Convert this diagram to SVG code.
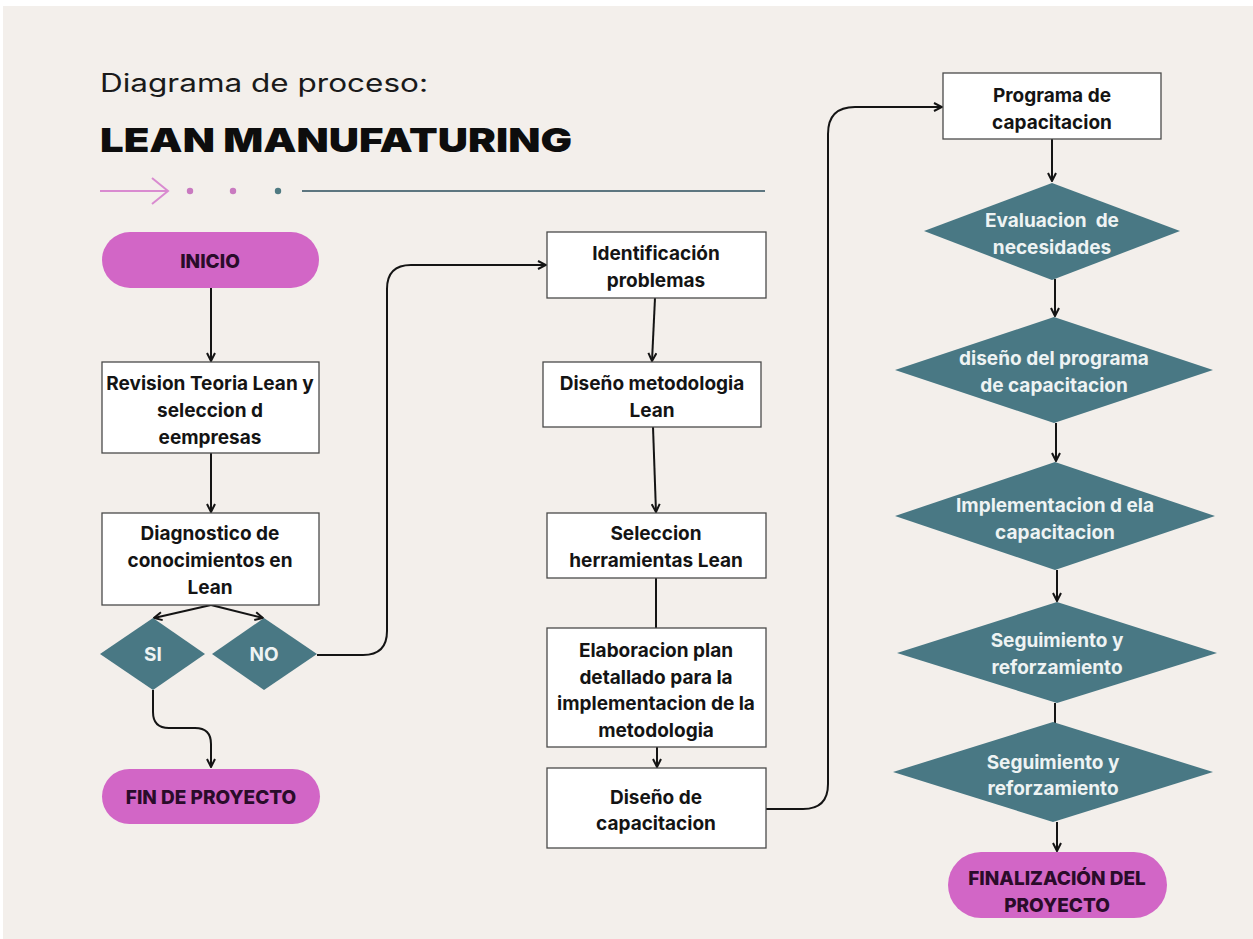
<svg xmlns="http://www.w3.org/2000/svg" width="1253" height="939" viewBox="0 0 1253 939">
  <style>
    .box { fill: #ffffff; stroke: #4a4a4a; stroke-width: 1.3; }
    .pill { fill: #d266c6; }
    .dia { fill: #497884; }
    .lbl { font-family: Inter, "Liberation Sans", sans-serif; font-weight: 700; font-size: 19px; fill: #141414; text-anchor: middle; }
    .lbl-pill { fill: #2a0c2a; font-weight: 800; }
    .lbl-dia { fill: #eef3f3; }
    .conn { fill: none; stroke: #141414; stroke-width: 2; }
  </style>
  <defs>
    <marker id="arrow" viewBox="0 0 10 10" refX="9" refY="5" markerWidth="10" markerHeight="10" markerUnits="userSpaceOnUse" orient="auto">
      <path d="M1,1 L9,5 L1,9" fill="none" stroke="#141414" stroke-width="2"/>
    </marker>
    <marker id="arrowPink" viewBox="0 0 20 30" refX="18" refY="15" markerWidth="20" markerHeight="30" markerUnits="userSpaceOnUse" orient="auto">
      <path d="M2,2 L18,15 L2,28" fill="none" stroke="#d98bd0" stroke-width="2"/>
    </marker>
  </defs>

  <!-- page background -->
  <rect x="0" y="0" width="1253" height="939" fill="#ffffff"/>
  <rect x="3" y="6" width="1250" height="933" fill="#f3efeb"/>

  <!-- heading -->
  <g id="heading">
    <text x="100" y="92" font-family="Inter, 'Liberation Sans', sans-serif" font-weight="400" font-size="25" fill="#1a1a1a" textLength="328" lengthAdjust="spacingAndGlyphs">Diagrama de proceso:</text>
    <text x="100" y="152" font-family="Inter, 'Liberation Sans', sans-serif" font-weight="900" font-size="33" fill="#0d0d0d" textLength="472" lengthAdjust="spacingAndGlyphs">LEAN MANUFATURING</text>
    <line x1="100" y1="191" x2="168" y2="191" stroke="#d98bd0" stroke-width="2" marker-end="url(#arrowPink)"/>
    <circle cx="190" cy="191" r="3.2" fill="#c97ac0"/>
    <circle cx="233" cy="191" r="3.2" fill="#c97ac0"/>
    <circle cx="278" cy="191" r="3.2" fill="#4f7a82"/>
    <line x1="302" y1="191" x2="765" y2="191" stroke="#5d7680" stroke-width="2"/>
  </g>

  <!-- connectors -->
  <g id="connectors">
    <line class="conn" x1="211" y1="288" x2="211" y2="361" marker-end="url(#arrow)"/>
    <line class="conn" x1="211" y1="453" x2="211" y2="512" marker-end="url(#arrow)"/>
    <line class="conn" x1="211" y1="605" x2="154" y2="618" marker-end="url(#arrow)"/>
    <line class="conn" x1="211" y1="605" x2="263" y2="618" marker-end="url(#arrow)"/>
    <path class="conn" d="M153,690 L153,712 Q153,728 169,728 L195,728 Q211,728 211,744 L211,767" marker-end="url(#arrow)"/>
    <path class="conn" d="M317,655 L363,655 Q387,655 387,631 L387,289 Q387,265 411,265 L546,265" marker-end="url(#arrow)"/>
    <line class="conn" x1="655" y1="298" x2="652" y2="361" marker-end="url(#arrow)"/>
    <line class="conn" x1="653" y1="427" x2="656" y2="512" marker-end="url(#arrow)"/>
    <line class="conn" x1="656" y1="578" x2="656" y2="628"/>
    <line class="conn" x1="657" y1="747" x2="657" y2="767" marker-end="url(#arrow)"/>
    <path class="conn" d="M766,809 L803,809 Q828,809 828,784 L828,134 Q828,107 855,107 L942,107" marker-end="url(#arrow)"/>
    <line class="conn" x1="1052" y1="139" x2="1052" y2="181" marker-end="url(#arrow)"/>
    <line class="conn" x1="1055" y1="279" x2="1055" y2="316" marker-end="url(#arrow)"/>
    <line class="conn" x1="1056" y1="423" x2="1056" y2="461" marker-end="url(#arrow)"/>
    <line class="conn" x1="1057" y1="570" x2="1057" y2="601" marker-end="url(#arrow)"/>
    <line class="conn" x1="1055" y1="703" x2="1055" y2="723"/>
    <line class="conn" x1="1057" y1="822" x2="1057" y2="851" marker-end="url(#arrow)"/>
  </g>

  <!-- left column -->
  <g id="inicio">
    <rect class="pill" x="102" y="232" width="217" height="56" rx="28"/>
    <text class="lbl lbl-pill" x="210" y="268">INICIO</text>
  </g>
  <g id="revision">
    <rect class="box" x="102" y="362" width="217" height="91"/>
    <text class="lbl" x="210" y="390">Revision Teoria Lean y</text>
    <text class="lbl" x="210" y="417">seleccion d</text>
    <text class="lbl" x="210" y="444">eempresas</text>
  </g>
  <g id="diagnostico">
    <rect class="box" x="102" y="513" width="217" height="92"/>
    <text class="lbl" x="210" y="540">Diagnostico de</text>
    <text class="lbl" x="210" y="567">conocimientos en</text>
    <text class="lbl" x="210" y="594">Lean</text>
  </g>
  <g id="si">
    <polygon class="dia" points="153,618 205,654 153,690 100,654"/>
    <text class="lbl lbl-dia" x="153" y="661">SI</text>
  </g>
  <g id="no">
    <polygon class="dia" points="264,618 317,654 264,690 212,654"/>
    <text class="lbl lbl-dia" x="264" y="661">NO</text>
  </g>
  <g id="fin-proyecto">
    <rect class="pill" x="102" y="769" width="218" height="55" rx="27.5"/>
    <text class="lbl lbl-pill" x="211" y="804">FIN DE PROYECTO</text>
  </g>

  <!-- middle column -->
  <g id="identificacion">
    <rect class="box" x="547" y="232" width="219" height="66"/>
    <text class="lbl" x="656" y="260">Identificación</text>
    <text class="lbl" x="656" y="287">problemas</text>
  </g>
  <g id="diseno-metodologia">
    <rect class="box" x="543" y="362" width="218" height="65"/>
    <text class="lbl" x="652" y="390">Diseño metodologia</text>
    <text class="lbl" x="652" y="417">Lean</text>
  </g>
  <g id="seleccion">
    <rect class="box" x="547" y="513" width="219" height="65"/>
    <text class="lbl" x="656" y="540">Seleccion</text>
    <text class="lbl" x="656" y="567">herramientas Lean</text>
  </g>
  <g id="elaboracion">
    <rect class="box" x="547" y="628" width="219" height="119"/>
    <text class="lbl" x="656" y="657">Elaboracion plan</text>
    <text class="lbl" x="656" y="684">detallado para la</text>
    <text class="lbl" x="656" y="710">implementacion de la</text>
    <text class="lbl" x="656" y="737">metodologia</text>
  </g>
  <g id="diseno-capacitacion">
    <rect class="box" x="547" y="768" width="219" height="80"/>
    <text class="lbl" x="656" y="804">Diseño de</text>
    <text class="lbl" x="656" y="830">capacitacion</text>
  </g>

  <!-- right column -->
  <g id="programa">
    <rect class="box" x="943" y="73" width="218" height="66"/>
    <text class="lbl" x="1052" y="102">Programa de</text>
    <text class="lbl" x="1052" y="129">capacitacion</text>
  </g>
  <g id="evaluacion">
    <polygon class="dia" points="1052,183 1180,231 1052,280 924,231"/>
    <text class="lbl lbl-dia" x="1052" y="227" xml:space="preserve">Evaluacion  de</text>
    <text class="lbl lbl-dia" x="1052" y="254">necesidades</text>
  </g>
  <g id="diseno-programa">
    <polygon class="dia" points="1054,317 1213,370 1054,423 895,370"/>
    <text class="lbl lbl-dia" x="1054" y="365">diseño del programa</text>
    <text class="lbl lbl-dia" x="1054" y="392">de capacitacion</text>
  </g>
  <g id="implementacion">
    <polygon class="dia" points="1055,462 1215,516 1055,570 895,516"/>
    <text class="lbl lbl-dia" x="1055" y="512">Implementacion d ela</text>
    <text class="lbl lbl-dia" x="1055" y="539">capacitacion</text>
  </g>
  <g id="seguimiento-1">
    <polygon class="dia" points="1057,602 1217,653 1057,703 897,653"/>
    <text class="lbl lbl-dia" x="1057" y="647">Seguimiento y</text>
    <text class="lbl lbl-dia" x="1057" y="674">reforzamiento</text>
  </g>
  <g id="seguimiento-2">
    <polygon class="dia" points="1053,722 1213,772 1053,822 893,772"/>
    <text class="lbl lbl-dia" x="1053" y="769">Seguimiento y</text>
    <text class="lbl lbl-dia" x="1053" y="795">reforzamiento</text>
  </g>
  <g id="finalizacion">
    <rect class="pill" x="948" y="852" width="219" height="66" rx="33"/>
    <text class="lbl lbl-pill" x="1057" y="885">FINALIZACIÓN DEL</text>
    <text class="lbl lbl-pill" x="1057" y="912">PROYECTO</text>
  </g>
</svg>
